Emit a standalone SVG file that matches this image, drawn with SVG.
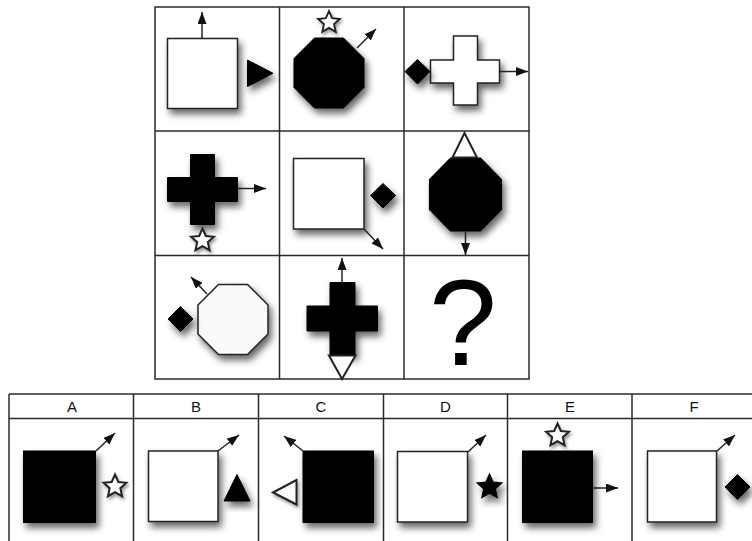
<svg xmlns="http://www.w3.org/2000/svg" xmlns:xlink="http://www.w3.org/1999/xlink" width="752" height="541" viewBox="0 0 752 541">
<style>
.grid{fill:none;stroke:#2a2a2a;stroke-width:1.5}
.wf{fill:#ffffff;stroke:#222;stroke-width:1.5}
.ws{fill:#ffffff;stroke:#222;stroke-width:2}
.bf{fill:#000;stroke:#000;stroke-width:1}
.sh{filter:url(#ds)}
.arr{stroke:#222;stroke-width:1.5;fill:none;marker-end:url(#ah)}
.lbl{font-family:"Liberation Sans",Arial,sans-serif;font-size:15px;fill:#111;text-anchor:middle}
.q{font-family:"Liberation Sans",Arial,sans-serif;font-size:122px;fill:#000;text-anchor:middle}
</style>
<defs>
<filter id="ds" x="-30%" y="-30%" width="170%" height="170%">
<feDropShadow dx="3" dy="5" stdDeviation="3.5" flood-color="#000" flood-opacity="0.6"/>
</filter>
<filter id="ds2" x="-40%" y="-40%" width="180%" height="180%">
<feDropShadow dx="1.5" dy="2.5" stdDeviation="1.5" flood-color="#000" flood-opacity="0.4"/>
</filter>
<marker id="ah" markerUnits="userSpaceOnUse" markerWidth="12" markerHeight="9" refX="12" refY="4.5" orient="auto">
<path d="M0,0 L12,4.5 L0,9 Z" fill="#111"/>
</marker>
<path id="star" d="M0,-12 L3.29,-4.53 L11.41,-3.71 L5.33,1.73 L7.05,9.71 L0,5.6 L-7.05,9.71 L-5.33,1.73 L-11.41,-3.71 L-3.29,-4.53 Z"/>
<path id="oct" d="M-14.5,-35 L14.5,-35 L35,-14.5 L35,14.5 L14.5,35 L-14.5,35 L-35,14.5 L-35,-14.5 Z"/>
<path id="cross" d="M-12,-35 H12 V-12 H35 V12 H12 V35 H-12 V12 H-35 V-12 H-12 Z"/>
</defs>
<rect width="752" height="541" fill="#fff"/>

<g id="matrix-grid" class="grid">
<rect x="155" y="7" width="374" height="372"/>
<line x1="279.5" y1="7" x2="279.5" y2="379"/>
<line x1="404" y1="7" x2="404" y2="379"/>
<line x1="155" y1="131" x2="529" y2="131"/>
<line x1="155" y1="255.5" x2="529" y2="255.5"/>
</g>

<g id="r1c1">
<rect class="wf sh" x="167.5" y="38.5" width="70" height="70"/>
<path class="bf sh" d="M247.5,60 L273,73.3 L247.5,86.5 Z"/>
</g>
<g id="r1c2">
<use href="#oct" class="bf sh" transform="translate(329,73)"/>
<use href="#star" class="ws" style="filter:url(#ds2)" transform="translate(329,22.5) scale(0.95)"/>
</g>
<g id="r1c3">
<path class="wf sh" d="M453.5,36 H477.5 V60 H499.5 V83 H477.5 V105 H453.5 V83 H430.5 V60 H453.5 Z"/>
<path class="bf sh" d="M417.5,59.5 L430,71.5 L417.5,84 L405,71.5 Z"/>
</g>
<g id="r2c1">
<use href="#cross" class="bf sh" transform="translate(202.5,189.5)"/>
<use href="#star" class="ws" style="filter:url(#ds2)" transform="translate(202.5,240.5)"/>
</g>
<g id="r2c2">
<rect class="wf sh" x="293.5" y="158.5" width="70.5" height="70.5"/>
<path class="bf sh" d="M383,183.5 L395.5,195.5 L383,208 L370.5,195.5 Z"/>
</g>
<g id="r2c3">
<use href="#oct" class="bf sh" transform="translate(465.5,194.5) scale(1.03,1.04)"/>
<path class="ws" d="M464.5,133 L477,157.5 L452.5,157.5 Z"/>
</g>
<g id="r3c1">
<use href="#oct" class="wf sh" style="fill:#fafafa" transform="translate(233,319.5)"/>
<path class="bf sh" d="M180.5,306.5 L193,319 L180.5,331.5 L168,319 Z"/>
</g>
<g id="r3c2">
<path class="bf sh" d="M330,282.5 H355 V306 H377.5 V331 H355 V355 H330 V331 H307 V306 H330 Z"/>
<path class="ws" d="M329,355.5 L355.5,355.5 L342,379 Z"/>
</g>
<g id="r3c3">
<text class="q" x="463" y="365">?</text>
</g>

<g id="answer-table" class="grid">
<line x1="9" y1="394" x2="752" y2="394"/>
<line x1="9" y1="418.5" x2="752" y2="418.5"/>
<line x1="9" y1="394" x2="9" y2="541"/>
<line x1="133.5" y1="394" x2="133.5" y2="541"/>
<line x1="258.5" y1="394" x2="258.5" y2="541"/>
<line x1="383.5" y1="394" x2="383.5" y2="541"/>
<line x1="507.5" y1="394" x2="507.5" y2="541"/>
<line x1="632" y1="394" x2="632" y2="541"/>
</g>
<g id="labels">
<text class="lbl" x="72" y="412">A</text>
<text class="lbl" x="196" y="412">B</text>
<text class="lbl" x="321" y="412">C</text>
<text class="lbl" x="445.5" y="412">D</text>
<text class="lbl" x="570" y="412">E</text>
<text class="lbl" x="694" y="412">F</text>
</g>

<g id="optA">
<rect class="bf sh" x="23.5" y="451" width="72" height="71.5"/>
<use href="#star" class="ws" style="filter:url(#ds2)" transform="translate(115,486.5)"/>
</g>
<g id="optB">
<rect class="wf sh" x="148.5" y="451" width="69.5" height="70.5"/>
<path class="bf sh" d="M237,474.5 L250,501 L224,501 Z"/>
</g>
<g id="optC">
<rect class="bf sh" x="303" y="451" width="70.5" height="71.5"/>
<path class="ws" style="filter:url(#ds2)" d="M273,492.5 L296.5,480 L296.5,504.5 Z"/>
</g>
<g id="optD">
<rect class="wf sh" x="397.5" y="451.5" width="70" height="70.5"/>
<use href="#star" class="bf sh" transform="translate(489.5,487) scale(1.1)"/>
</g>
<g id="optE">
<rect class="bf sh" x="522.5" y="451" width="70" height="71.5"/>
<use href="#star" class="ws" style="filter:url(#ds2)" transform="translate(557.5,435.5)"/>
</g>
<g id="optF">
<rect class="wf sh" x="647.5" y="451" width="69" height="71"/>
<path class="bf sh" d="M737.5,474.5 L750,487 L737.5,499.5 L725,487 Z"/>
</g>

<g id="connectors">
<line class="arr" x1="202" y1="38" x2="202" y2="12"/>
<line class="arr" x1="357" y1="48" x2="376" y2="29"/>
<line class="arr" x1="500" y1="71.5" x2="528" y2="71.5"/>
<line class="arr" x1="238" y1="188.5" x2="266" y2="188.5"/>
<line class="arr" x1="364" y1="229" x2="383" y2="249"/>
<line class="arr" x1="465.5" y1="231" x2="465.5" y2="255"/>
<line class="arr" x1="207" y1="294" x2="191" y2="277"/>
<line class="arr" x1="342" y1="282" x2="342" y2="258"/>
<line class="arr" x1="96" y1="451" x2="115" y2="433"/>
<line class="arr" x1="218" y1="451" x2="239" y2="435"/>
<line class="arr" x1="303" y1="451" x2="284" y2="436"/>
<line class="arr" x1="468" y1="452" x2="486" y2="435"/>
<line class="arr" x1="593" y1="488" x2="618" y2="488"/>
<line class="arr" x1="717" y1="451" x2="735" y2="435"/>
</g>
</svg>
